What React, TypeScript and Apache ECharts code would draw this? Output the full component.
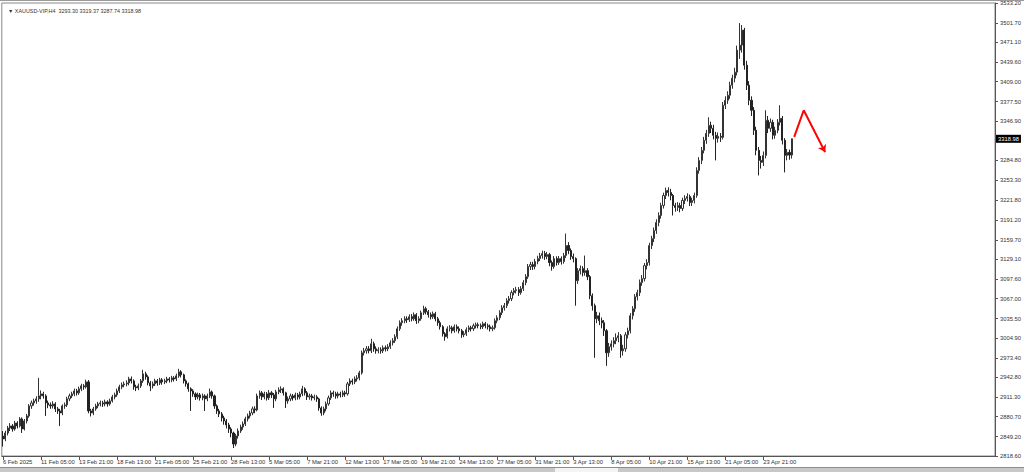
import React, { useEffect, useRef } from "react";
import * as echarts from "echarts";

const titleText = "\u25BC XAUUSD-VIP,H4  3293.30 3319.37 3287.74 3318.98";

const yTicks = [
  2818.6, 2849.2, 2880.7, 2911.3, 2942.8, 2973.4, 3004.9, 3035.5, 3067.0, 3097.6, 3129.1, 3159.7,
  3191.2, 3221.8, 3253.3, 3284.8, 3346.9, 3377.5, 3409.0, 3439.6, 3471.1, 3501.7, 3533.2,
];

const xTickLabels = [
  "6 Feb 2025", "11 Feb 05:00", "13 Feb 21:00", "18 Feb 13:00", "21 Feb 05:00", "25 Feb 21:00",
  "28 Feb 13:00", "5 Mar 05:00", "7 Mar 21:00", "12 Mar 13:00", "17 Mar 05:00", "19 Mar 21:00",
  "24 Mar 13:00", "27 Mar 05:00", "31 Mar 21:00", "3 Apr 13:00", "8 Apr 05:00", "10 Apr 21:00",
  "15 Apr 13:00", "21 Apr 05:00", "23 Apr 21:00",
];

const holidays = ["2025-04-18"];
const barHours = [1, 5, 9, 13, 17, 21];
const totalSlots = 418;

// [open, close, low, high]
const ohlc: number[][] = [
  [2850.0, 2845.5, 2833.5, 2858.0], [2845.5, 2854.9, 2842.0, 2858.5], [2854.9, 2862.8, 2851.0, 2866.0],
  [2862.8, 2866.0, 2858.0, 2870.5], [2866.0, 2861.2, 2857.0, 2869.0], [2861.2, 2870.7, 2858.5, 2874.0],
  [2870.7, 2866.0, 2862.0, 2873.5], [2866.0, 2877.1, 2863.5, 2880.0], [2877.1, 2861.2, 2855.0, 2879.5],
  [2861.2, 2873.9, 2859.0, 2877.0], [2873.9, 2881.8, 2870.0, 2885.0], [2881.8, 2897.6, 2879.0, 2900.5],
  [2897.6, 2902.4, 2893.0, 2906.0], [2902.4, 2905.5, 2898.0, 2909.0], [2905.5, 2908.7, 2901.0, 2913.0],
  [2908.7, 2913.4, 2904.0, 2941.8], [2913.4, 2916.6, 2908.0, 2922.0], [2916.6, 2913.4, 2909.0, 2920.0],
  [2913.4, 2902.4, 2881.8, 2916.0], [2902.4, 2899.2, 2894.0, 2906.0], [2899.2, 2897.6, 2893.0, 2903.0],
  [2897.6, 2900.8, 2893.5, 2905.0], [2900.8, 2892.9, 2888.0, 2903.5], [2892.9, 2889.7, 2885.0, 2896.0],
  [2889.7, 2886.5, 2866.0, 2893.0], [2886.5, 2897.6, 2883.0, 2900.0], [2897.6, 2899.2, 2893.0, 2903.0],
  [2899.2, 2908.7, 2896.0, 2912.0], [2908.7, 2913.4, 2905.0, 2917.0], [2913.4, 2916.6, 2910.0, 2920.0],
  [2916.6, 2921.3, 2913.0, 2925.0], [2921.3, 2918.2, 2914.0, 2924.5], [2918.2, 2924.5, 2915.0, 2928.0],
  [2924.5, 2929.2, 2921.0, 2932.5], [2929.2, 2927.6, 2923.0, 2932.0], [2927.6, 2935.5, 2925.0, 2939.0],
  [2935.5, 2889.7, 2886.0, 2938.5], [2889.7, 2886.5, 2881.0, 2893.0], [2886.5, 2892.9, 2883.0, 2896.0],
  [2892.9, 2897.6, 2890.0, 2901.0], [2897.6, 2900.8, 2894.0, 2904.0], [2900.8, 2902.4, 2897.0, 2906.0],
  [2902.4, 2900.8, 2896.0, 2905.5], [2900.8, 2903.9, 2897.0, 2907.5], [2903.9, 2900.8, 2896.5, 2906.5],
  [2900.8, 2905.5, 2898.0, 2909.0], [2905.5, 2911.8, 2903.0, 2915.0], [2911.8, 2915.0, 2908.0, 2918.5],
  [2915.0, 2921.3, 2912.0, 2925.0], [2921.3, 2927.6, 2918.0, 2931.0], [2927.6, 2930.8, 2924.0, 2934.5],
  [2930.8, 2932.4, 2927.0, 2936.0], [2932.4, 2933.9, 2928.5, 2938.0], [2933.9, 2940.2, 2930.0, 2943.5],
  [2940.2, 2937.1, 2933.0, 2944.0], [2937.1, 2927.6, 2923.0, 2939.5], [2927.6, 2926.0, 2921.0, 2931.0],
  [2926.0, 2929.2, 2922.5, 2933.0], [2929.2, 2937.1, 2926.0, 2940.0], [2937.1, 2948.2, 2934.0, 2954.5],
  [2948.2, 2943.4, 2939.0, 2951.5], [2943.4, 2933.9, 2930.0, 2946.0], [2933.9, 2929.2, 2921.0, 2937.0],
  [2929.2, 2932.4, 2925.0, 2936.0], [2932.4, 2937.1, 2929.0, 2940.5], [2937.1, 2933.9, 2929.5, 2940.0],
  [2933.9, 2938.7, 2930.5, 2942.0], [2938.7, 2935.5, 2931.0, 2941.5], [2935.5, 2937.1, 2932.0, 2940.5],
  [2937.1, 2940.2, 2933.5, 2943.5], [2940.2, 2938.7, 2934.5, 2943.0], [2938.7, 2941.8, 2935.0, 2945.0],
  [2941.8, 2940.2, 2936.0, 2944.5], [2940.2, 2945.0, 2937.0, 2948.5], [2945.0, 2951.4, 2942.0, 2956.1],
  [2951.4, 2946.6, 2942.5, 2954.0], [2946.6, 2937.1, 2933.0, 2948.5], [2937.1, 2932.4, 2928.0, 2939.5],
  [2932.4, 2924.5, 2920.0, 2934.5], [2924.5, 2921.3, 2889.7, 2927.0], [2921.3, 2916.6, 2912.0, 2924.0],
  [2916.6, 2911.8, 2907.0, 2919.0], [2911.8, 2915.0, 2908.0, 2918.5], [2915.0, 2910.3, 2906.0, 2918.0],
  [2910.3, 2913.4, 2906.5, 2917.0], [2913.4, 2908.7, 2889.7, 2916.0], [2908.7, 2913.4, 2905.0, 2917.0],
  [2913.4, 2919.7, 2910.0, 2925.0], [2919.7, 2913.4, 2909.0, 2922.0], [2913.4, 2897.6, 2893.0, 2915.5],
  [2897.6, 2889.7, 2885.0, 2900.0], [2889.7, 2885.0, 2880.0, 2893.0], [2885.0, 2878.6, 2873.0, 2888.0],
  [2878.6, 2873.9, 2868.0, 2882.0], [2873.9, 2867.6, 2862.0, 2877.0], [2867.6, 2861.2, 2855.0, 2871.0],
  [2861.2, 2854.9, 2848.0, 2864.0], [2854.9, 2837.5, 2831.2, 2857.0], [2837.5, 2850.2, 2834.0, 2853.5],
  [2850.2, 2858.1, 2846.0, 2862.0], [2858.1, 2864.4, 2855.0, 2868.0], [2864.4, 2869.1, 2860.0, 2873.0],
  [2869.1, 2877.1, 2866.0, 2880.5], [2877.1, 2881.8, 2873.0, 2885.5], [2881.8, 2886.5, 2878.0, 2890.0],
  [2886.5, 2892.9, 2883.0, 2896.5], [2892.9, 2891.3, 2886.0, 2897.0], [2891.3, 2913.4, 2889.0, 2917.0],
  [2913.4, 2918.2, 2909.0, 2922.0], [2918.2, 2911.8, 2907.0, 2921.0], [2911.8, 2916.6, 2908.0, 2920.0],
  [2916.6, 2910.3, 2906.0, 2919.5], [2910.3, 2918.2, 2907.0, 2922.5], [2918.2, 2915.0, 2910.0, 2921.0],
  [2915.0, 2908.7, 2894.4, 2918.0], [2908.7, 2919.7, 2905.0, 2923.0], [2919.7, 2922.9, 2916.0, 2927.0],
  [2922.9, 2924.5, 2918.0, 2928.5], [2924.5, 2918.2, 2914.0, 2927.0], [2918.2, 2905.5, 2894.4, 2920.0],
  [2905.5, 2908.7, 2901.0, 2912.5], [2908.7, 2913.4, 2905.0, 2917.0], [2913.4, 2910.3, 2906.0, 2916.5],
  [2910.3, 2915.0, 2906.5, 2918.5], [2915.0, 2911.8, 2907.5, 2918.0], [2911.8, 2916.6, 2908.0, 2920.0],
  [2916.6, 2924.5, 2913.0, 2929.2], [2924.5, 2918.2, 2914.0, 2927.0], [2918.2, 2911.8, 2907.0, 2921.0],
  [2911.8, 2913.4, 2907.5, 2917.0], [2913.4, 2910.3, 2906.0, 2916.5], [2910.3, 2911.8, 2906.5, 2915.5],
  [2911.8, 2908.7, 2904.0, 2914.5], [2908.7, 2894.4, 2890.0, 2910.5], [2894.4, 2886.5, 2882.0, 2897.0],
  [2886.5, 2892.9, 2883.0, 2896.5], [2892.9, 2900.8, 2889.0, 2904.5], [2900.8, 2910.3, 2898.0, 2914.0],
  [2910.3, 2918.2, 2907.0, 2922.0], [2918.2, 2916.6, 2912.0, 2921.5], [2916.6, 2913.4, 2909.0, 2920.0],
  [2913.4, 2916.6, 2909.5, 2920.0], [2916.6, 2915.0, 2911.0, 2920.0], [2915.0, 2918.2, 2911.5, 2922.0],
  [2918.2, 2916.6, 2912.0, 2921.5], [2916.6, 2932.4, 2914.0, 2935.5], [2932.4, 2937.1, 2929.0, 2941.0],
  [2937.1, 2935.5, 2931.0, 2940.5], [2935.5, 2940.2, 2932.0, 2944.0], [2940.2, 2941.8, 2936.0, 2946.0],
  [2941.8, 2949.8, 2938.0, 2953.0], [2949.8, 2981.4, 2947.0, 2985.0], [2981.4, 2984.6, 2977.0, 2989.0],
  [2984.6, 2987.7, 2980.0, 2992.0], [2987.7, 2984.6, 2980.5, 2992.0], [2984.6, 2995.6, 2981.0, 3003.5],
  [2995.6, 2987.7, 2983.0, 2999.0], [2987.7, 2984.6, 2980.0, 2991.5], [2984.6, 2986.1, 2980.5, 2990.0],
  [2986.1, 2984.6, 2980.0, 2990.0], [2984.6, 2989.3, 2981.0, 2993.0], [2989.3, 2987.7, 2983.5, 2993.0],
  [2987.7, 2990.9, 2984.0, 2995.0], [2990.9, 2997.2, 2987.5, 3001.0], [2997.2, 3000.4, 2993.0, 3004.5],
  [3000.4, 3006.7, 2997.0, 3010.5], [3006.7, 3019.3, 3003.0, 3023.0], [3019.3, 3028.8, 3016.0, 3032.5],
  [3028.8, 3032.0, 3024.0, 3036.0], [3032.0, 3035.1, 3028.0, 3039.0], [3035.1, 3033.6, 3028.5, 3039.0],
  [3033.6, 3038.3, 3030.0, 3042.0], [3038.3, 3035.1, 3031.0, 3042.5], [3035.1, 3041.5, 3032.0, 3045.0],
  [3041.5, 3032.0, 3027.0, 3044.0], [3032.0, 3035.1, 3028.0, 3039.0], [3035.1, 3044.6, 3032.0, 3048.0],
  [3044.6, 3050.9, 3041.0, 3055.7], [3050.9, 3046.2, 3042.0, 3054.0], [3046.2, 3041.5, 3037.0, 3049.0],
  [3041.5, 3038.3, 3034.0, 3045.0], [3038.3, 3043.0, 3035.0, 3046.5], [3043.0, 3035.1, 3031.0, 3046.0],
  [3035.1, 3028.8, 3024.0, 3038.0], [3028.8, 3022.5, 3018.0, 3032.0], [3022.5, 3011.4, 3007.0, 3025.0],
  [3011.4, 3006.7, 3000.4, 3014.0], [3006.7, 3019.3, 3004.0, 3023.0], [3019.3, 3020.9, 3015.0, 3025.0],
  [3020.9, 3016.2, 3012.0, 3024.0], [3016.2, 3022.5, 3013.0, 3026.0], [3022.5, 3019.3, 3015.0, 3026.0],
  [3019.3, 3016.2, 3012.0, 3023.0], [3016.2, 3009.8, 3005.0, 3019.0], [3009.8, 3011.4, 3006.0, 3015.5],
  [3011.4, 3017.8, 3008.0, 3021.5], [3017.8, 3020.9, 3014.0, 3024.5], [3020.9, 3019.3, 3015.0, 3024.0],
  [3019.3, 3024.1, 3016.0, 3027.5], [3024.1, 3025.7, 3020.0, 3029.0], [3025.7, 3024.1, 3020.0, 3029.0],
  [3024.1, 3022.5, 3018.5, 3027.5], [3022.5, 3027.2, 3019.0, 3030.5], [3027.2, 3024.1, 3020.0, 3030.0],
  [3024.1, 3022.5, 3018.0, 3027.5], [3022.5, 3019.3, 3015.0, 3026.0], [3019.3, 3020.9, 3015.5, 3024.5],
  [3020.9, 3032.0, 3018.0, 3035.5], [3032.0, 3036.7, 3028.0, 3040.5], [3036.7, 3044.6, 3033.0, 3048.5],
  [3044.6, 3052.5, 3041.0, 3056.5], [3052.5, 3055.7, 3048.0, 3060.0], [3055.7, 3063.6, 3052.0, 3067.5],
  [3063.6, 3066.8, 3059.0, 3071.0], [3066.8, 3076.3, 3063.0, 3080.0], [3076.3, 3079.4, 3072.0, 3083.5],
  [3079.4, 3081.0, 3075.0, 3085.5], [3081.0, 3076.3, 3071.0, 3085.0], [3076.3, 3082.6, 3073.0, 3086.5],
  [3082.6, 3092.1, 3079.0, 3096.0], [3092.1, 3101.5, 3088.0, 3105.5], [3101.5, 3117.4, 3098.0, 3121.5],
  [3117.4, 3120.5, 3112.0, 3125.0], [3120.5, 3117.4, 3112.0, 3125.0], [3117.4, 3125.3, 3113.0, 3129.5],
  [3125.3, 3130.0, 3121.0, 3134.5], [3130.0, 3134.8, 3126.0, 3139.0], [3134.8, 3137.9, 3130.0, 3142.5],
  [3137.9, 3133.2, 3128.0, 3142.0], [3133.2, 3136.3, 3129.0, 3140.5], [3136.3, 3123.7, 3118.0, 3139.0],
  [3123.7, 3117.4, 3111.0, 3127.0], [3117.4, 3130.0, 3114.0, 3134.0], [3130.0, 3123.7, 3119.0, 3133.5],
  [3123.7, 3130.0, 3120.0, 3134.0], [3130.0, 3125.3, 3120.5, 3133.5], [3125.3, 3134.8, 3122.0, 3139.0],
  [3134.8, 3150.6, 3131.0, 3169.5], [3150.6, 3142.7, 3137.0, 3156.0], [3142.7, 3133.2, 3128.0, 3146.0],
  [3133.2, 3130.0, 3124.0, 3138.0], [3130.0, 3095.2, 3055.7, 3132.0], [3095.2, 3111.0, 3090.0, 3115.0],
  [3111.0, 3114.2, 3105.0, 3119.0], [3114.2, 3107.9, 3102.0, 3118.0], [3107.9, 3111.0, 3103.0, 3134.8],
  [3111.0, 3101.5, 3096.0, 3115.0], [3101.5, 3071.5, 3066.0, 3104.0], [3071.5, 3055.7, 3048.0, 3075.0],
  [3055.7, 3035.1, 2973.5, 3059.0], [3035.1, 3039.9, 3028.0, 3046.0], [3039.9, 3032.0, 3025.0, 3045.0],
  [3032.0, 3028.8, 3020.0, 3037.0], [3028.8, 3016.2, 3008.0, 3033.0], [3016.2, 2981.4, 2960.8, 3019.0],
  [2981.4, 2990.9, 2975.0, 2997.0], [2990.9, 2995.6, 2985.0, 3001.0], [2995.6, 3000.4, 2990.0, 3006.0],
  [3000.4, 3005.1, 2995.0, 3012.0], [3005.1, 3008.3, 2998.0, 3014.0], [3008.3, 2984.6, 2973.5, 3011.0],
  [2984.6, 2987.7, 2977.0, 2994.0], [2987.7, 3009.8, 2983.0, 3014.0], [3009.8, 3016.2, 3004.0, 3021.0],
  [3016.2, 3039.9, 3012.0, 3044.0], [3039.9, 3050.9, 3034.0, 3055.0], [3050.9, 3069.9, 3046.0, 3074.0],
  [3069.9, 3076.3, 3064.0, 3081.0], [3076.3, 3092.1, 3071.0, 3097.0], [3092.1, 3098.4, 3087.0, 3104.0],
  [3098.4, 3118.9, 3094.0, 3123.0], [3118.9, 3123.7, 3113.0, 3129.0], [3123.7, 3150.6, 3119.0, 3155.0],
  [3150.6, 3161.6, 3145.0, 3166.0], [3161.6, 3174.3, 3156.0, 3179.0], [3174.3, 3186.9, 3169.0, 3192.0],
  [3186.9, 3198.0, 3181.0, 3203.0], [3198.0, 3213.8, 3193.0, 3218.0], [3213.8, 3229.6, 3209.0, 3234.0],
  [3229.6, 3237.5, 3224.0, 3242.0], [3237.5, 3234.4, 3228.0, 3242.5], [3234.4, 3229.6, 3222.0, 3240.0],
  [3229.6, 3213.8, 3198.0, 3232.0], [3213.8, 3210.6, 3204.0, 3218.0], [3210.6, 3213.8, 3205.0, 3219.0],
  [3213.8, 3209.1, 3203.0, 3218.0], [3209.1, 3221.7, 3205.0, 3226.0], [3221.7, 3224.9, 3216.0, 3230.0],
  [3224.9, 3228.0, 3220.0, 3233.0], [3228.0, 3218.5, 3213.0, 3231.0], [3218.5, 3221.7, 3213.0, 3226.0],
  [3221.7, 3229.6, 3217.0, 3234.0], [3229.6, 3269.1, 3226.0, 3274.0], [3269.1, 3284.9, 3264.0, 3290.0],
  [3284.9, 3300.8, 3279.0, 3306.0], [3300.8, 3316.6, 3296.0, 3322.0], [3316.6, 3327.6, 3311.0, 3333.0],
  [3327.6, 3340.3, 3322.0, 3352.9], [3340.3, 3335.5, 3328.0, 3346.0], [3335.5, 3324.5, 3318.0, 3341.0],
  [3324.5, 3319.7, 3284.9, 3330.0], [3319.7, 3322.9, 3313.0, 3329.0], [3322.9, 3321.3, 3314.0, 3328.0],
  [3321.3, 3371.9, 3318.0, 3377.0], [3371.9, 3379.8, 3366.0, 3386.0], [3379.8, 3387.7, 3374.0, 3394.0],
  [3387.7, 3403.5, 3382.0, 3409.0], [3403.5, 3414.6, 3398.0, 3420.0], [3414.6, 3424.1, 3408.0, 3431.0],
  [3424.1, 3458.9, 3419.0, 3466.0], [3458.9, 3466.8, 3445.0, 3501.5], [3466.8, 3490.5, 3455.0, 3498.4],
  [3490.5, 3435.1, 3428.0, 3494.0], [3435.1, 3403.5, 3396.0, 3442.0], [3403.5, 3379.8, 3372.0, 3410.0],
  [3379.8, 3364.0, 3355.0, 3386.0], [3364.0, 3332.4, 3325.0, 3369.0], [3332.4, 3300.8, 3293.0, 3338.0],
  [3300.8, 3284.9, 3261.2, 3306.0], [3284.9, 3281.8, 3272.0, 3292.0], [3281.8, 3292.8, 3276.0, 3299.0],
  [3292.8, 3348.2, 3288.0, 3364.0], [3348.2, 3335.5, 3328.0, 3355.0], [3335.5, 3345.0, 3330.0, 3351.0],
  [3345.0, 3324.5, 3318.0, 3349.0], [3324.5, 3332.4, 3319.0, 3338.0], [3332.4, 3345.0, 3328.0, 3350.0],
  [3345.0, 3351.3, 3340.0, 3371.9], [3351.3, 3316.6, 3310.0, 3355.0], [3316.6, 3292.8, 3266.0, 3320.0],
  [3292.8, 3297.6, 3285.0, 3303.0], [3297.6, 3293.3, 3286.0, 3302.0], [3293.3, 3318.98, 3287.74, 3319.37],
];

const lastClose = 3318.98;

// forecast arrow: [bar index, price]
const arrowUp = [[333, 3322.0], [337, 3364.0]];
const arrowDown = [[337, 3364.0], [346, 3298.0]];

const monthNames = ["Jan", "Feb", "Mar", "Apr", "May", "Jun"];

function buildCategories(): string[] {
  const out: string[] = [];
  const d = new Date(Date.UTC(2025, 1, 6));
  let first = true;
  while (out.length < totalSlots) {
    const dow = d.getUTCDay();
    const iso = d.toISOString().slice(0, 10);
    if (dow !== 0 && dow !== 6 && holidays.indexOf(iso) < 0) {
      for (const h of barHours) {
        if (first && h < 13) continue;
        out.push(`${d.getUTCDate()} ${monthNames[d.getUTCMonth()]} ${String(h).padStart(2, "0")}:00`);
      }
      first = false;
    }
    d.setUTCDate(d.getUTCDate() + 1);
  }
  return out.slice(0, totalSlots);
}

const FONT = "Liberation Sans";

export default function App() {
  const ref = useRef<HTMLDivElement>(null);
  useEffect(() => {
    if (!ref.current) return;
    const chart = echarts.init(ref.current, undefined, { renderer: "svg" });
    const categories = buildCategories();
    const isTick = (i: number) => i % 16 === 0 && i / 16 < xTickLabels.length;
    chart.setOption({
      animation: false,
      backgroundColor: "#ffffff",
      title: {
        text: titleText,
        left: 3,
        top: 3,
        textStyle: { fontSize: 5.4, fontWeight: "normal", color: "#333", fontFamily: FONT },
      },
      graphic: [
        { type: "rect", left: 0, top: 0, shape: { width: 1024, height: 1 }, style: { fill: "#9a9a9a" }, silent: true },
        { type: "rect", left: 0, top: 467, shape: { width: 1024, height: 5 }, style: { fill: "#c8c8c8" }, silent: true },
        { type: "rect", left: 0, top: 467, shape: { width: 1024, height: 1 }, style: { fill: "#8c8c8c" }, silent: true },
        { type: "rect", left: 555, top: 468, shape: { width: 63, height: 4 }, style: { fill: "#f4f4f4" }, silent: true },
      ],
      grid: { left: 0, right: 29, top: 3, bottom: 16, show: true, borderColor: "#888", borderWidth: 1 },
      xAxis: {
        type: "category",
        data: categories,
        boundaryGap: true,
        axisLine: { show: true, lineStyle: { color: "#555", width: 1 } },
        axisTick: {
          show: true,
          alignWithLabel: true,
          interval: (i: number) => isTick(i),
          length: 4,
          lineStyle: { color: "#555" },
        },
        axisLabel: {
          interval: (i: number) => isTick(i),
          formatter: (_v: string, i: number) => (isTick(i) ? xTickLabels[i / 16] : ""),
          align: "left",
          fontSize: 5.8,
          color: "#333",
          fontFamily: FONT,
          margin: 3,
        },
        splitLine: { show: false },
      },
      yAxis: {
        type: "value",
        position: "right",
        min: 2818.6,
        max: 3533.2,
        axisLine: { show: true, lineStyle: { color: "#555", width: 1 } },
        axisTick: { show: true, customValues: yTicks, length: 3, lineStyle: { color: "#555" } },
        axisLabel: {
          customValues: yTicks,
          formatter: (v: number) => v.toFixed(2),
          fontSize: 5.8,
          color: "#333",
          fontFamily: FONT,
          margin: 5,
        },
        splitLine: { show: false },
      },
      series: [
        {
          type: "candlestick",
          data: ohlc,
          barWidth: 1.6,
          itemStyle: {
            color: "#ffffff",
            color0: "#222222",
            borderColor: "#333333",
            borderColor0: "#222222",
            borderWidth: 1,
          },
          markLine: {
            silent: true,
            symbol: ["none", "none"],
            data: [{ yAxis: lastClose }],
            lineStyle: { color: "rgba(0,0,0,0)", width: 0 },
            label: {
              show: true,
              position: "end",
              formatter: lastClose.toFixed(2),
              backgroundColor: "#000",
              color: "#fff",
              fontSize: 5.8,
              fontFamily: FONT,
              padding: [1, 2, 1, 2],
              distance: 1,
            },
          },
        },
        {
          type: "lines",
          coordinateSystem: "cartesian2d",
          silent: true,
          symbol: ["none", "none"],
          lineStyle: { color: "#ff0000", width: 2, opacity: 1, curveness: 0 },
          data: [{ coords: arrowUp }],
        },
        {
          type: "lines",
          coordinateSystem: "cartesian2d",
          silent: true,
          symbol: ["none", "arrow"],
          symbolSize: 7,
          lineStyle: { color: "#ff0000", width: 2, opacity: 1, curveness: 0 },
          data: [{ coords: arrowDown }],
        },
      ],
    });
    return () => chart.dispose();
  }, []);
  return (
    <div
      ref={ref}
      style={{ position: "fixed", left: 0, top: 0, width: 1024, height: 472, background: "#fff" }}
    />
  );
}
